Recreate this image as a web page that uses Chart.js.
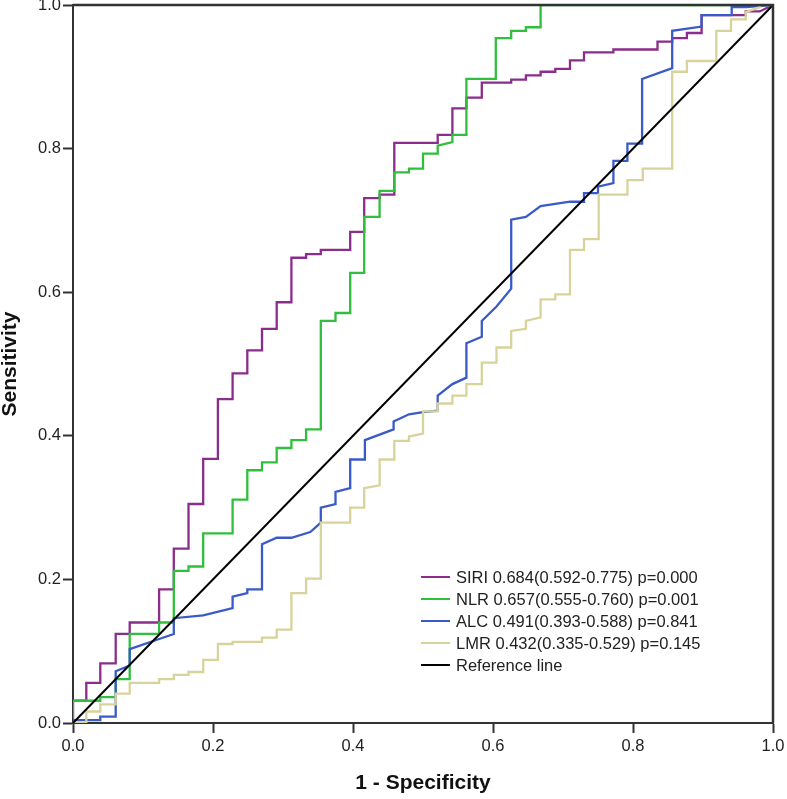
<!DOCTYPE html>
<html>
<head>
<meta charset="utf-8">
<script src="https://cdn.jsdelivr.net/npm/chart.js@4/dist/chart.umd.min.js"></script>
<style>
  html, body { margin: 0; padding: 0; background: #fff; }
  #roc { display: block; }
</style>
</head>
<body>
<canvas id="roc" width="787" height="799"></canvas>
<script>
// ROC curves
const siriRoc = [[0,0],[0,0.031],[0.019,0.031],[0.019,0.056],[0.039,0.056],[0.039,0.083],[0.061,0.083],[0.061,0.124],[0.081,0.124],[0.081,0.140],[0.123,0.140],[0.123,0.186],[0.144,0.186],[0.144,0.243],[0.165,0.243],[0.165,0.305],[0.186,0.305],[0.186,0.368],[0.207,0.368],[0.207,0.451],[0.228,0.451],[0.228,0.487],[0.249,0.487],[0.249,0.519],[0.270,0.519],[0.270,0.549],[0.291,0.549],[0.291,0.586],[0.312,0.586],[0.312,0.648],[0.333,0.648],[0.333,0.653],[0.354,0.653],[0.354,0.659],[0.396,0.659],[0.396,0.684],[0.416,0.684],[0.416,0.731],[0.438,0.731],[0.438,0.736],[0.459,0.736],[0.459,0.808],[0.521,0.808],[0.521,0.819],[0.542,0.819],[0.542,0.856],[0.562,0.856],[0.562,0.871],[0.584,0.871],[0.584,0.892],[0.626,0.892],[0.626,0.896],[0.647,0.896],[0.647,0.902],[0.668,0.902],[0.668,0.907],[0.689,0.907],[0.689,0.911],[0.710,0.911],[0.710,0.923],[0.730,0.923],[0.730,0.934],[0.772,0.934],[0.772,0.938],[0.835,0.938],[0.835,0.949],[0.856,0.949],[0.856,0.954],[0.877,0.954],[0.877,0.961],[0.898,0.961],[0.898,0.986],[0.961,0.986],[0.961,0.991],[0.981,0.991],[1,1]];

const nlrRoc = [[0,0],[0,0.031],[0.039,0.031],[0.039,0.036],[0.061,0.036],[0.061,0.061],[0.081,0.061],[0.081,0.124],[0.123,0.124],[0.123,0.140],[0.144,0.140],[0.144,0.212],[0.165,0.212],[0.165,0.218],[0.186,0.218],[0.186,0.264],[0.228,0.264],[0.228,0.311],[0.249,0.311],[0.249,0.352],[0.270,0.352],[0.270,0.363],[0.291,0.363],[0.291,0.383],[0.312,0.383],[0.312,0.394],[0.333,0.394],[0.333,0.409],[0.354,0.409],[0.354,0.560],[0.375,0.560],[0.375,0.571],[0.396,0.571],[0.396,0.627],[0.416,0.627],[0.416,0.705],[0.438,0.705],[0.438,0.741],[0.459,0.741],[0.459,0.767],[0.480,0.767],[0.480,0.772],[0.500,0.772],[0.500,0.793],[0.521,0.793],[0.521,0.804],[0.542,0.809],[0.542,0.819],[0.562,0.819],[0.562,0.897],[0.604,0.897],[0.604,0.954],[0.626,0.954],[0.626,0.964],[0.647,0.964],[0.647,0.969],[0.668,0.969],[0.668,1],[1,1]];

const alcRoc = [[0,0],[0,0.004],[0.039,0.004],[0.039,0.009],[0.061,0.009],[0.061,0.072],[0.081,0.080],[0.081,0.103],[0.123,0.117],[0.144,0.124],[0.144,0.146],[0.186,0.150],[0.228,0.160],[0.228,0.176],[0.249,0.181],[0.249,0.186],[0.270,0.186],[0.270,0.249],[0.291,0.258],[0.312,0.258],[0.339,0.266],[0.354,0.279],[0.354,0.300],[0.375,0.305],[0.375,0.322],[0.396,0.327],[0.396,0.367],[0.417,0.367],[0.417,0.394],[0.458,0.409],[0.458,0.420],[0.480,0.430],[0.500,0.433],[0.521,0.435],[0.521,0.456],[0.542,0.472],[0.562,0.481],[0.562,0.529],[0.584,0.538],[0.584,0.560],[0.605,0.580],[0.626,0.605],[0.626,0.701],[0.647,0.705],[0.668,0.720],[0.710,0.726],[0.730,0.726],[0.730,0.738],[0.750,0.738],[0.750,0.747],[0.772,0.752],[0.772,0.783],[0.792,0.783],[0.792,0.807],[0.813,0.807],[0.813,0.897],[0.856,0.912],[0.856,0.964],[0.898,0.970],[0.898,0.986],[0.941,0.986],[0.941,0.997],[0.961,0.997],[1,1]];

const lmrRoc = [[0,0],[0.019,0],[0.019,0.016],[0.039,0.016],[0.039,0.026],[0.061,0.026],[0.061,0.041],[0.081,0.041],[0.081,0.056],[0.123,0.056],[0.123,0.061],[0.144,0.061],[0.144,0.067],[0.165,0.067],[0.165,0.071],[0.186,0.071],[0.186,0.088],[0.207,0.088],[0.207,0.110],[0.228,0.110],[0.228,0.113],[0.270,0.113],[0.270,0.119],[0.291,0.119],[0.291,0.130],[0.312,0.130],[0.312,0.181],[0.333,0.181],[0.333,0.201],[0.354,0.201],[0.354,0.279],[0.396,0.279],[0.396,0.300],[0.416,0.300],[0.416,0.327],[0.438,0.331],[0.438,0.367],[0.459,0.367],[0.459,0.393],[0.480,0.393],[0.480,0.399],[0.500,0.403],[0.500,0.434],[0.521,0.434],[0.521,0.445],[0.542,0.445],[0.542,0.456],[0.562,0.456],[0.562,0.472],[0.584,0.472],[0.584,0.502],[0.605,0.502],[0.605,0.523],[0.626,0.523],[0.626,0.546],[0.647,0.549],[0.647,0.560],[0.668,0.565],[0.668,0.590],[0.689,0.590],[0.689,0.597],[0.710,0.597],[0.710,0.659],[0.730,0.659],[0.730,0.674],[0.751,0.674],[0.751,0.736],[0.792,0.736],[0.792,0.756],[0.814,0.756],[0.814,0.772],[0.856,0.772],[0.856,0.907],[0.877,0.907],[0.877,0.922],[0.919,0.922],[0.919,0.964],[0.940,0.964],[0.940,0.980],[0.961,0.980],[0.961,0.990],[0.981,0.997],[0.981,1],[1,1]];

const refLine = [[0,0],[1,1]];

const seriesLabels = [
    'SIRI 0.684(0.592-0.775) p=0.000',
    'NLR 0.657(0.555-0.760) p=0.001',
    'ALC 0.491(0.393-0.588) p=0.841',
    'LMR 0.432(0.335-0.529) p=0.145',
    'Reference line'
];
const seriesColors = ['#8a2d8c', '#2fbf3c', '#3a5bc7', '#d8d39b', '#000000'];
const axisTicks = [0, 0.2, 0.4, 0.6, 0.8, 1.0];

const FONT = 'Arial, "Liberation Sans", sans-serif';
const AXIS_COLOR = '#333333';

const toPoints = arr => arr.map(p => ({ x: p[0], y: p[1] }));

// legend drawn inside the plot, lower right
const insideLegend = {
    id: 'insideLegend',
    afterDraw(chart) {
        const ctx = chart.ctx;
        const x0 = 421, y0 = 577, rowH = 22;
        ctx.save();
        ctx.font = '16.5px ' + FONT;
        ctx.textBaseline = 'middle';
        ctx.textAlign = 'left';
        seriesLabels.forEach((label, i) => {
            const y = y0 + i * rowH;
            ctx.strokeStyle = seriesColors[i];
            ctx.lineWidth = 2;
            ctx.beginPath();
            ctx.moveTo(x0, y);
            ctx.lineTo(x0 + 29, y);
            ctx.stroke();
            ctx.fillStyle = '#222';
            ctx.fillText(label, x0 + 35, y + 1);
        });
        ctx.restore();
    }
};

// top and right edges of the frame, drawn over the curves
const plotFrame = {
    id: 'plotFrame',
    afterDatasetsDraw(chart) {
        const { ctx, chartArea: a } = chart;
        ctx.save();
        ctx.strokeStyle = AXIS_COLOR;
        ctx.lineWidth = 2.5;
        ctx.beginPath();
        ctx.moveTo(a.left, a.top);
        ctx.lineTo(a.right, a.top);
        ctx.lineTo(a.right, a.bottom);
        ctx.stroke();
        ctx.restore();
    }
};

const datasets = [siriRoc, nlrRoc, alcRoc, lmrRoc, refLine].map((arr, i) => ({
    label: seriesLabels[i],
    data: toPoints(arr),
    showLine: true,
    borderColor: seriesColors[i],
    backgroundColor: seriesColors[i],
    borderWidth: i === 4 ? 2 : 2.3,
    pointRadius: 0,
    pointHoverRadius: 0,
    tension: 0,
    fill: false,
    order: 4 - i
}));

const tickFmt = v => Number(v).toFixed(1);

new Chart(document.getElementById('roc'), {
    type: 'scatter',
    data: { datasets },
    options: {
        responsive: false,
        animation: false,
        devicePixelRatio: 1,
        layout: { padding: { top: 5, right: 14, left: 0, bottom: 0 } },
        plugins: {
            legend: { display: false },
            tooltip: { enabled: false }
        },
        scales: {
            x: {
                type: 'linear',
                min: 0,
                max: 1,
                afterBuildTicks: s => { s.ticks = axisTicks.map(v => ({ value: v })); },
                afterFit: s => { s.height = 76; s.paddingLeft = 0; s.paddingRight = 0; },
                grid: { drawOnChartArea: false, drawTicks: true, tickLength: 10, tickColor: AXIS_COLOR, tickWidth: 2 },
                border: { display: true, color: AXIS_COLOR, width: 2 },
                ticks: { callback: tickFmt, padding: 4, color: '#222', maxRotation: 0, font: { family: FONT, size: 16.5 } },
                title: {
                    display: true,
                    text: '1 - Specificity',
                    color: '#111',
                    padding: { top: 0, bottom: 5 },
                    font: { family: FONT, size: 21, weight: 'bold', lineHeight: 1 }
                }
            },
            y: {
                type: 'linear',
                min: 0,
                max: 1,
                afterBuildTicks: s => { s.ticks = axisTicks.map(v => ({ value: v })); },
                afterFit: s => { s.width = 73; s.paddingTop = 0; s.paddingBottom = 0; },
                grid: { drawOnChartArea: false, drawTicks: true, tickLength: 10, tickColor: AXIS_COLOR, tickWidth: 2 },
                border: { display: true, color: AXIS_COLOR, width: 2 },
                ticks: { callback: tickFmt, padding: 2, color: '#222', font: { family: FONT, size: 16.5 } },
                title: {
                    display: true,
                    text: 'Sensitivity',
                    color: '#111',
                    padding: { top: 0, bottom: 0 },
                    font: { family: FONT, size: 21, weight: 'bold', lineHeight: 1 }
                }
            }
        }
    },
    plugins: [plotFrame, insideLegend]
});
</script>
</body>
</html>
